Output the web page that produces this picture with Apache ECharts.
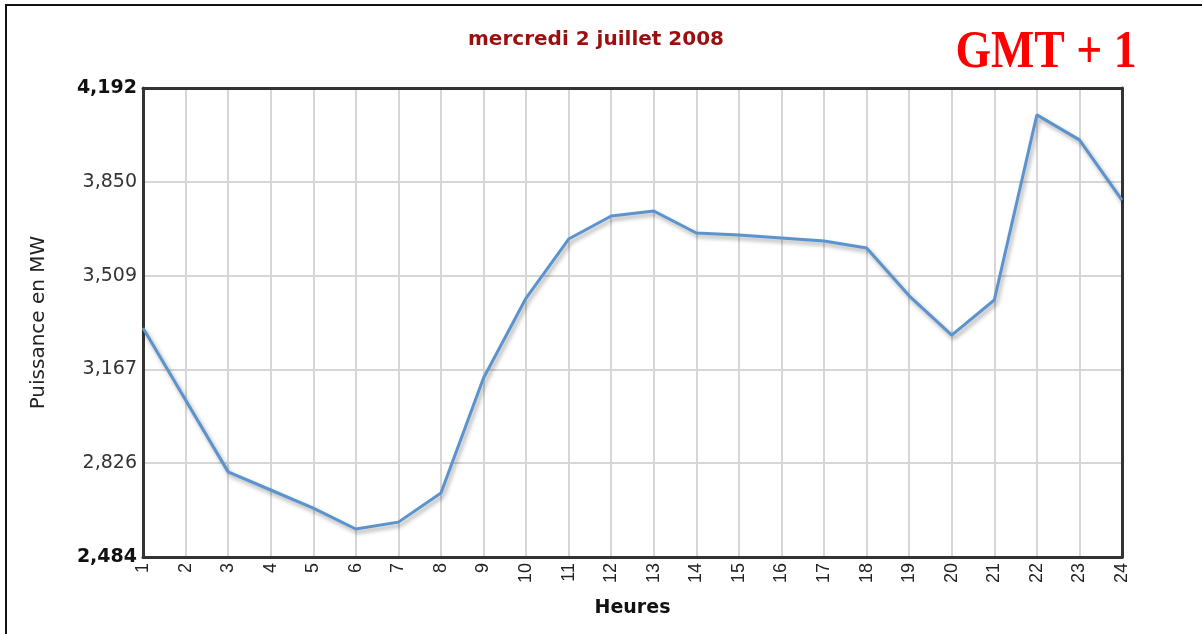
<!DOCTYPE html>
<html>
<head>
<meta charset="utf-8">
<script src="https://cdn.jsdelivr.net/npm/echarts@6/dist/echarts.min.js"></script>
<style>
  html, body { margin: 0; padding: 0; background: #fff; }
  #frame { position: absolute; left: 5px; top: 4px; width: 1197px; height: 630px;
           border-left: 2px solid #111; border-top: 2px solid #111; box-sizing: border-box; }
  #chart { position: absolute; left: 0; top: 0; width: 1202px; height: 634px; }
</style>
</head>
<body>
<div id="chart"></div>
<div id="frame"></div>
<script>
// heures 1..24
const hours = ['1', '2', '3', '4', '5', '6', '7', '8', '9', '10', '11', '12',
  '13', '14', '15', '16', '17', '18', '19', '20', '21', '22', '23', '24']
// puissance en MW
const power = [3318, 3056, 2794, 2728, 2662, 2586, 2611, 2717, 3136, 3427, 3642, 3726,
  3744, 3664, 3657, 3646, 3635, 3609, 3435, 3292, 3420, 4094, 4003, 3784]
// graduations de l'axe Y
const yTicks = [2484, 2825.6, 3167.2, 3508.8, 3849.6, 4192]

const frameLine = { lineStyle: { color: '#333', width: 3 } }

const myChart = echarts.init(document.getElementById('chart'))
myChart.setOption({
  animation: false,
  title: {
    text: 'mercredi 2 juillet 2008',
    left: 591,
    top: 25,
    textAlign: 'center',
    textStyle: {
      color: '#9a0f0f',
      fontFamily: 'DejaVu Sans',
      fontWeight: 'bold',
      fontSize: 20
    }
  },
  graphic: [{
    type: 'text',
    x: 1046,
    y: 54,
    scaleX: 0.88,
    style: {
      text: 'GMT + 1',
      fill: '#ff0000',
      font: 'bold 52px "Liberation Serif"',
      textAlign: 'center',
      textVerticalAlign: 'middle'
    }
  }],
  grid: {
    left: 143,
    right: 80,
    top: 88,
    bottom: 77
  },
  xAxis: [{
    type: 'category',
    boundaryGap: false,
    data: hours,
    name: 'Heures',
    nameLocation: 'middle',
    nameGap: 42,
    nameTextStyle: {
      color: '#111',
      fontFamily: 'DejaVu Sans',
      fontWeight: 'bold',
      fontSize: 19
    },
    axisLine: frameLine,
    axisTick: { show: false },
    splitLine: { show: true, lineStyle: { color: '#d6d6d6', width: 2 } },
    axisLabel: {
      rotate: 90,
      margin: 6,
      interval: 0,
      color: '#222',
      fontFamily: 'Liberation Sans',
      fontSize: 18
    }
  }, {
    type: 'category',
    position: 'top',
    boundaryGap: false,
    data: hours,
    axisLine: frameLine,
    axisTick: { show: false },
    axisLabel: { show: false },
    splitLine: { show: false }
  }],
  yAxis: [{
    type: 'value',
    min: 2484,
    max: 4192,
    name: 'Puissance en MW',
    nameLocation: 'middle',
    nameGap: 94,
    nameTextStyle: {
      color: '#222',
      fontFamily: 'DejaVu Sans',
      fontSize: 20
    },
    axisLine: { show: true, lineStyle: { color: '#333', width: 3 } },
    axisTick: { show: false, customValues: yTicks },
    splitLine: { show: true, lineStyle: { color: '#d6d6d6', width: 2 } },
    axisLabel: {
      customValues: yTicks,
      margin: 6,
      color: '#333',
      fontFamily: 'DejaVu Sans',
      fontSize: 19,
      formatter: function (v) {
        const s = Math.round(v).toLocaleString('en-US')
        return (v === 2484 || v === 4192) ? '{b|' + s + '}' : s
      },
      rich: {
        b: { fontFamily: 'DejaVu Sans', fontWeight: 'bold', fontSize: 19, color: '#111' }
      }
    }
  }, {
    type: 'value',
    position: 'right',
    min: 2484,
    max: 4192,
    axisLine: { show: true, lineStyle: { color: '#333', width: 3 } },
    axisTick: { show: false },
    axisLabel: { show: false },
    splitLine: { show: false }
  }],
  series: [{
    type: 'line',
    data: power,
    symbol: 'none',
    lineStyle: {
      color: '#5b93cf',
      width: 3,
      shadowColor: 'rgba(0, 0, 0, 0.35)',
      shadowOffsetX: 2,
      shadowOffsetY: 3,
      shadowBlur: 4
    },
    z: 3
  }]
})
</script>
</body>
</html>
